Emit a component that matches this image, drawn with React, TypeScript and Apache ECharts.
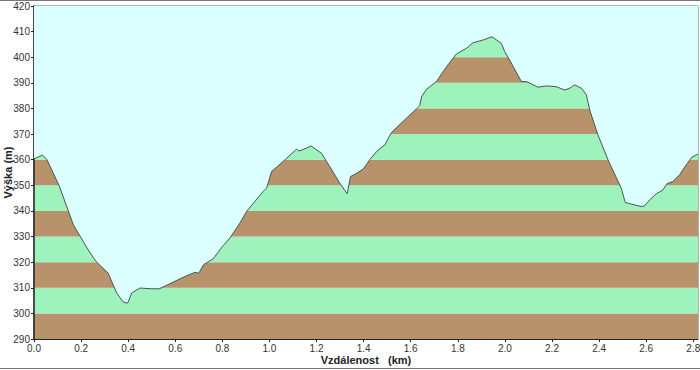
import React, { useEffect, useRef } from "react";
import * as echarts from "echarts";

const distanceKm = [
  0.0, 0.035, 0.054, 0.107, 0.167, 0.2, 0.23, 0.263, 0.315, 0.351, 0.379, 0.398, 0.415, 0.45, 0.5,
  0.532, 0.598, 0.641, 0.683, 0.7, 0.72, 0.761, 0.8, 0.832, 0.874, 0.903, 0.973, 0.988, 1.009,
  1.058, 1.115, 1.126, 1.157, 1.176, 1.221, 1.256, 1.299, 1.33, 1.344, 1.37, 1.398, 1.426, 1.455,
  1.49, 1.518, 1.568, 1.638, 1.646, 1.667, 1.709, 1.752, 1.794, 1.837, 1.865, 1.907, 1.945, 1.985,
  1.999, 2.02, 2.07, 2.091, 2.112, 2.14, 2.176, 2.218, 2.254, 2.275, 2.296, 2.325, 2.346, 2.36,
  2.388, 2.395, 2.438, 2.494, 2.511, 2.579, 2.593, 2.615, 2.643, 2.671, 2.688, 2.713, 2.742, 2.77,
  2.794, 2.82,
];

const elevationM = [
  360.3, 361.8, 360.2, 349.8, 334.6, 329.5, 324.8, 320.3, 315.7, 308.0, 304.4, 304.0, 308.0, 309.9,
  309.6, 309.6, 312.5, 314.4, 316.0, 315.7, 319.0, 321.3, 326.1, 329.4, 335.2, 339.8, 347.6, 348.9,
  355.4, 359.3, 364.1, 363.4, 364.5, 365.4, 362.5, 357.3, 350.8, 346.7, 353.4, 354.7, 356.3, 360.0,
  363.2, 365.8, 370.6, 375.0, 381.0, 384.6, 387.5, 390.5, 396.3, 401.3, 403.5, 405.7, 406.7, 408.0,
  405.4, 402.2, 398.9, 390.5, 390.5, 389.6, 388.3, 388.8, 388.5, 387.2, 387.9, 389.2, 387.9, 385.3,
  379.4, 371.6, 369.7, 359.9, 348.9, 343.3, 341.7, 342.0, 344.3, 346.7, 348.2, 350.6, 351.5, 354.1,
  358.0, 361.0, 362.2,
];

const bandColors = ["#b8926a", "#9ef2bc"];
const skyColor = "#dcffff";

export default function App() {
  const ref = useRef<HTMLDivElement>(null);
  useEffect(() => {
    if (!ref.current) return;
    const chart = echarts.init(ref.current, undefined, { renderer: "svg" });
    const data = distanceKm.map((d, i) => [d, elevationM[i]]);
    const font = "'Liberation Sans', Arial, sans-serif";
    chart.setOption({
      animation: false,
      backgroundColor: "#ffffff",
      grid: {
        left: 34,
        right: 2,
        top: 6,
        bottom: 31,
        containLabel: false,
        outerBoundsMode: "none",
        show: true,
        borderColor: "#666",
        borderWidth: 1,
        backgroundColor: skyColor,
      },
      graphic: [
        { type: "line", shape: { x1: 0, y1: 0.5, x2: 700, y2: 0.5 }, style: { stroke: "#777", lineWidth: 1 } },
        { type: "line", shape: { x1: 0, y1: 368.5, x2: 700, y2: 368.5 }, style: { stroke: "#777", lineWidth: 1 } },
      ],
      xAxis: {
        type: "value",
        min: 0,
        max: 2.82,
        interval: 0.2,
        name: "Vzdálenost   (km)",
        nameLocation: "middle",
        nameGap: 15,
        nameMoveOverlap: false,
        nameTextStyle: { fontFamily: font, fontSize: 11, fontWeight: "bold", color: "#222" },
        axisLine: { show: true, lineStyle: { color: "#222", width: 1 } },
        axisTick: { show: true, length: 3, lineStyle: { color: "#222" } },
        axisLabel: {
          fontFamily: font,
          fontSize: 10,
          color: "#333",
          margin: 4,
          showMaxLabel: false,
          formatter: (v: number) => v.toFixed(1),
        },
        splitLine: { show: false },
      },
      yAxis: {
        type: "value",
        min: 290,
        max: 420,
        interval: 10,
        name: "Výška (m)",
        nameLocation: "middle",
        nameGap: 21,
        nameMoveOverlap: false,
        nameTextStyle: { fontFamily: font, fontSize: 11, fontWeight: "bold", color: "#222" },
        axisLine: { show: true, lineStyle: { color: "#222", width: 1.5 } },
        axisTick: { show: true, length: 3, lineStyle: { color: "#222" } },
        axisLabel: { fontFamily: font, fontSize: 10, color: "#333", margin: 4 },
        splitLine: { show: false },
        splitArea: { show: true, areaStyle: { color: bandColors, opacity: 1 } },
      },
      series: [
        {
          type: "line",
          data,
          showSymbol: false,
          symbol: "none",
          smooth: false,
          lineStyle: { color: "#46584e", width: 1 },
          areaStyle: { origin: "end", color: skyColor, opacity: 1 },
          z: 3,
        },
      ],
    });
    return () => chart.dispose();
  }, []);
  return (
    <div
      ref={ref}
      style={{ position: "fixed", left: 0, top: 0, width: 700, height: 370 }}
    />
  );
}
